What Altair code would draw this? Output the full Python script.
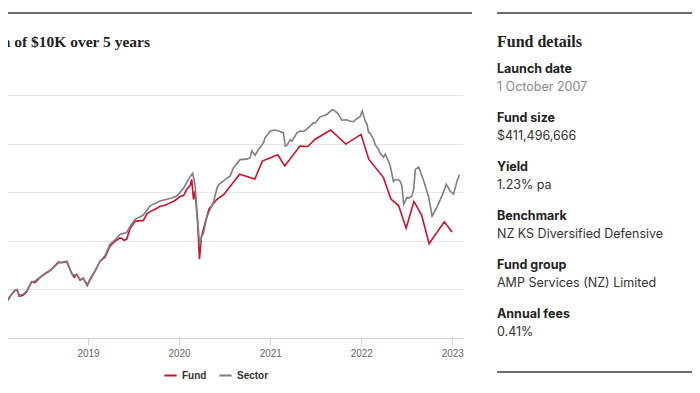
import altair as alt
import pandas as pd

# ---------------- data ----------------
sector_dates = [
    "2018-02-02", "2018-02-11", "2018-03-01", "2018-03-14", "2018-03-23", "2018-03-31",
    "2018-04-16", "2018-04-30", "2018-05-20", "2018-06-02", "2018-06-22", "2018-07-12",
    "2018-08-01", "2018-08-22", "2018-09-04", "2018-09-17", "2018-10-08", "2018-10-14",
    "2018-10-28", "2018-11-17", "2018-11-30", "2018-12-13", "2018-12-29", "2019-01-09",
    "2019-01-29", "2019-02-18", "2019-03-10", "2019-03-30", "2019-04-19", "2019-05-09",
    "2019-06-05", "2019-06-19", "2019-07-09", "2019-08-11", "2019-09-07", "2019-10-17",
    "2019-11-26", "2019-12-23", "2020-01-19", "2020-02-08", "2020-02-25", "2020-03-05",
    "2020-03-15", "2020-03-24", "2020-04-01", "2020-04-08", "2020-04-21", "2020-05-05",
    "2020-05-18", "2020-06-01", "2020-06-07", "2020-06-14", "2020-06-27", "2020-07-11",
    "2020-07-24", "2020-08-06", "2020-09-02", "2020-09-29", "2020-10-12", "2020-10-19",
    "2020-11-01", "2020-11-15", "2020-12-05", "2020-12-11", "2021-01-01", "2021-01-21",
    "2021-02-10", "2021-02-23", "2021-03-02", "2021-03-08", "2021-03-22", "2021-03-29",
    "2021-04-18", "2021-05-01", "2021-05-14", "2021-05-28", "2021-06-10", "2021-06-23",
    "2021-06-30", "2021-07-20", "2021-08-16", "2021-09-05", "2021-09-10", "2021-09-25",
    "2021-10-02", "2021-10-15", "2021-11-04", "2021-11-18", "2021-12-01", "2021-12-08",
    "2021-12-28", "2022-01-05", "2022-01-17", "2022-01-24", "2022-01-30", "2022-02-06",
    "2022-02-19", "2022-02-26", "2022-03-11", "2022-03-18", "2022-03-31", "2022-04-07",
    "2022-04-20", "2022-04-27", "2022-05-10", "2022-05-17", "2022-05-31", "2022-06-06",
    "2022-06-13", "2022-06-20", "2022-07-03", "2022-07-10", "2022-07-23", "2022-07-30",
    "2022-08-06", "2022-08-19", "2022-09-08", "2022-09-28", "2022-10-12", "2022-11-01",
    "2022-11-21", "2022-12-08", "2022-12-24", "2023-01-06", "2023-01-20", "2023-01-30",
]
sector_values = [
    10005, 9895, 9950, 9995, 10000, 9940,
    9950, 9985, 10075, 10085, 10125, 10165,
    10195, 10240, 10275, 10280, 10290, 10255,
    10155, 10145, 10105, 10110, 10050, 10105,
    10190, 10290, 10345, 10465, 10510, 10565,
    10585, 10650, 10720, 10765, 10860, 10910,
    10935, 10960, 11040, 11135, 11195, 11080,
    10720, 10455, 10550, 10575, 10740, 10825,
    10895, 11040, 11075, 11090, 11115, 11145,
    11165, 11250, 11335, 11340, 11355, 11425,
    11380, 11440, 11510, 11560, 11630, 11640,
    11625, 11610, 11475, 11480, 11540, 11525,
    11610, 11630, 11625, 11650, 11680, 11715,
    11710, 11775, 11800, 11845, 11850, 11820,
    11800, 11740, 11745, 11730, 11725, 11745,
    11780, 11835, 11730, 11700, 11615, 11605,
    11545, 11490, 11440, 11400, 11360, 11390,
    11320, 11270, 11110, 11130, 11125, 11110,
    11065, 10875, 10945, 10940, 10960, 11030,
    11235, 11260, 11120, 10950, 10755, 10850,
    10965, 11080, 11010, 10980, 11115, 11180,
]

fund_dates = [
    "2018-02-02", "2018-02-12", "2018-03-01", "2018-03-14", "2018-03-23", "2018-03-31",
    "2018-04-16", "2018-04-30", "2018-05-20", "2018-06-02", "2018-06-22", "2018-07-12",
    "2018-08-01", "2018-08-22", "2018-09-04", "2018-09-17", "2018-10-08", "2018-10-14",
    "2018-10-28", "2018-11-06", "2018-11-17", "2018-11-30", "2018-12-13", "2018-12-29",
    "2019-01-09", "2019-01-29", "2019-02-18", "2019-03-10", "2019-03-30", "2019-04-19",
    "2019-05-09", "2019-05-17", "2019-05-25", "2019-06-05", "2019-06-19", "2019-07-09",
    "2019-08-11", "2019-08-26", "2019-09-07", "2019-09-27", "2019-10-17", "2019-11-06",
    "2019-11-26", "2019-12-16", "2020-01-05", "2020-01-19", "2020-02-01", "2020-02-14",
    "2020-02-21", "2020-02-28", "2020-03-05", "2020-03-15", "2020-03-23", "2020-03-31",
    "2020-04-30", "2020-05-31", "2020-06-30", "2020-08-31", "2020-10-31", "2020-11-30",
    "2021-01-31", "2021-02-28", "2021-04-30", "2021-05-31", "2021-06-30", "2021-08-31",
    "2021-10-31", "2021-12-31", "2022-01-31", "2022-03-31", "2022-04-30", "2022-05-31",
    "2022-06-30", "2022-07-31", "2022-08-31", "2022-09-30", "2022-11-30", "2022-12-31",
]
fund_values = [
    10000, 9885, 9950, 9990, 9990, 9930,
    9940, 9975, 10080, 10070, 10120, 10160,
    10190, 10245, 10280, 10275, 10285, 10245,
    10165, 10125, 10155, 10095, 10115, 10040,
    10095, 10185, 10290, 10330, 10445, 10495,
    10530, 10525, 10505, 10515, 10630, 10700,
    10710, 10780, 10800, 10825, 10855, 10865,
    10890, 10915, 10955, 10965, 11030, 11065,
    11130, 10925, 11010, 10720, 10310, 10545,
    10825, 10925, 10980, 11185, 11135, 11320,
    11385, 11270, 11475, 11470, 11545, 11640,
    11495, 11595, 11340, 11150, 10930, 10860,
    10630, 10905, 10765, 10470, 10695, 10590,
]

series_names = ["Fund", "Sector"]
series_colors = ["#cc0f2c", "#7f7f7f"]
year_ticks = [2019, 2020, 2021, 2022, 2023]
y_grid = [9500, 10000, 10500, 11000, 11500, 12000]

chart_title = "Growth of $10K over 5 years"
panel_title = "Fund details"
detail_labels = ["Launch date", "Fund size", "Yield", "Benchmark", "Fund group", "Annual fees"]
detail_values = ["1 October 2007", "$411,496,666", "1.23% pa",
                 "NZ KS Diversified Defensive", "AMP Services (NZ) Limited", "0.41%"]
detail_value_colors = ["#8a8a8a", "#333333", "#333333", "#333333", "#333333", "#333333"]

# ---------------- chart ----------------
fund_df = pd.DataFrame({"date": fund_dates, "value": fund_values, "series": "Fund"})
sector_df = pd.DataFrame({"date": sector_dates, "value": sector_values, "series": "Sector"})

x_enc = alt.X(
    "date:T",
    title=None,
    scale=alt.Scale(domain=[alt.DateTime(year=2018, month=1, date=13),
                            alt.DateTime(year=2023, month=2, date=13)]),
    axis=alt.Axis(
        values=[alt.DateTime(year=y, month=1, date=1) for y in year_ticks],
        format="%Y", grid=False, domainColor="#d6d6d6", tickColor="#d6d6d6",
        tickSize=7, labelColor="#666666", labelFont="Liberation Sans",
        labelFontSize=10, labelPadding=3,
    ),
)
y_enc = alt.Y(
    "value:Q",
    title=None,
    scale=alt.Scale(domain=[9500, 12000], nice=False, zero=False),
    axis=alt.Axis(values=y_grid, labels=False, ticks=False, domain=False,
                  gridColor="#e6e6e6", gridWidth=1),
)
color_enc = alt.Color(
    "series:N",
    scale=alt.Scale(domain=series_names, range=series_colors),
    legend=alt.Legend(
        orient="none", legendX=163, legendY=273, direction="horizontal",
        title=None, symbolType="stroke", symbolStrokeWidth=2, symbolSize=150,
        labelFont="Liberation Sans", labelFontWeight="bold", labelFontSize=10,
        labelColor="#333333", columnPadding=8, labelOffset=4, gridAlign="none",
    ),
)

fund_line = alt.Chart(fund_df).mark_line(strokeWidth=1.6).encode(
    x=x_enc, y=y_enc, color=color_enc)
sector_line = alt.Chart(sector_df).mark_line(strokeWidth=1.6).encode(
    x=x_enc, y=y_enc, color=color_enc)

one = pd.DataFrame({"k": [0]})


def rule(x1, x2, y, w=1.6):
    return alt.Chart(one).mark_rule(color="#3a3a3a", strokeWidth=w).encode(
        x=alt.value(x1), x2=alt.value(x2), y=alt.value(y))


def text(s, x, y, size, weight="normal", color="#222222", font="Inter", align="left"):
    return alt.Chart(pd.DataFrame({"t": [s]})).mark_text(
        align=align, baseline="middle", fontSize=size, fontWeight=weight,
        color=color, font=font,
    ).encode(text="t:N", x=alt.value(x), y=alt.value(y))


# plot-area origin sits at page (0, 95)
layers = [
    fund_line,
    sector_line,
    rule(0, 472, -82),
    rule(497, 720, -82),
    rule(497, 720, 277),
    text(chart_title, 150, -53, 15.5, "bold", "#222222", "Liberation Serif", "right"),
    text(panel_title, 497, -53, 16, "bold", "#222222", "Liberation Serif"),
]
for i, (lab, val) in enumerate(zip(detail_labels, detail_values)):
    ly = 69 + i * 49 - 95
    layers.append(text(lab, 497, ly, 12.5, "bold", "#222222"))
    layers.append(text(val, 497, ly + 18, 12.5, "normal", detail_value_colors[i]))

chart = alt.layer(*layers).properties(
    width=463,
    height=243,
    autosize=alt.AutoSizeParams(type="none"),
    padding={"left": -8, "top": 87, "right": 229, "bottom": 42},
    background="white",
).configure_view(stroke=None)

chart.save("out.html", embed_options={"renderer": "svg", "actions": False})
